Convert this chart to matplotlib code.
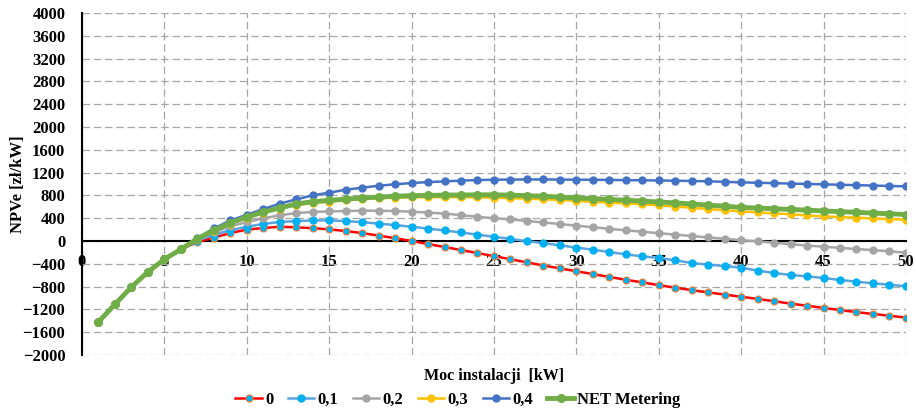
import numpy as np
import matplotlib.pyplot as plt

moc = np.arange(1, 51)

poczatek = [-1420, -1110, -807, -543, -320, -146]

npv_0 = poczatek + [-17, 60, 140, 200, 228, 250, 240, 225, 205, 175, 140, 95, 50, 0,
                    -53, -105, -158, -212, -265, -320, -375, -430, -480, -530,
                    -580, -630, -680, -725, -775, -818, -862, -902, -940, -978,
                    -1016, -1057, -1098, -1135, -1174, -1210, -1248, -1280, -1310, -1344]
npv_01 = poczatek + [5, 110, 190, 250, 300, 334, 350, 360, 362, 350, 330, 305, 280, 250,
                     218, 185, 150, 112, 75, 35, -2, -38, -76, -115,
                     -152, -193, -234, -269, -298, -339, -386, -414, -440, -467,
                     -520, -561, -596, -620, -649, -684, -713, -743, -766, -795]
npv_02 = poczatek + [20, 150, 260, 330, 400, 450, 491, 509, 520, 526, 532, 532, 526, 514,
                     500, 480, 455, 425, 400, 378, 352, 325, 298, 270,
                     242, 214, 188, 162, 138, 112, 88, 62, 38, 14,
                     -5, -30, -55, -80, -100, -120, -140, -160, -180, -205]
npv_03 = poczatek + [35, 180, 305, 405, 490, 570, 630, 670, 690, 715, 735, 750, 760, 765,
                     768, 770, 770, 768, 760, 752, 743, 733, 720, 705,
                     690, 675, 660, 645, 625, 605, 585, 562, 540, 520,
                     503, 485, 468, 450, 433, 420, 408, 396, 385, 375]
npv_04 = poczatek + [50, 220, 360, 460, 560, 655, 731, 801, 848, 900, 935, 970, 995, 1017,
                     1034, 1046, 1060, 1068, 1076, 1078, 1080, 1080, 1078, 1076,
                     1074, 1072, 1068, 1065, 1062, 1058, 1053, 1047, 1038, 1029,
                     1022, 1015, 1008, 1001, 994, 987, 980, 973, 966, 959]
npv_net = poczatek + [40, 188, 316, 421, 509, 579, 650, 690, 713, 735, 755, 772, 785, 795,
                      800, 805, 808, 810, 810, 805, 795, 785, 770, 755,
                      745, 730, 715, 700, 685, 668, 650, 630, 610, 590,
                      578, 566, 554, 541, 528, 515, 503, 490, 477, 465]

y_ticks = np.arange(-2000, 4001, 400)
x_ticks = np.arange(0, 51, 5)

plt.rcParams['font.family'] = ['Liberation Serif', 'DejaVu Serif']
plt.rcParams['font.weight'] = 'bold'

fig = plt.figure(figsize=(9.16, 4.13), dpi=100)
ax = fig.add_axes([0.0895, 0.1404, 0.8995, 0.8281])

ax.plot(moc, npv_0, color='#FF0000', lw=1.8, marker='o', ms=5,
        mfc='#00B0F0', mec='#ED7D31', mew=0.8, label='0')
ax.plot(moc, npv_01, color='#5BA3DE', lw=1.8, marker='o', ms=5,
        mfc='#00B0F0', mec='#00B0F0', label='0,1')
ax.plot(moc, npv_02, color='#A5A5A5', lw=1.8, marker='o', ms=5,
        mfc='#A5A5A5', mec='#A5A5A5', label='0,2')
ax.plot(moc, npv_03, color='#FFC000', lw=1.8, marker='o', ms=5,
        mfc='#FFC000', mec='#FFC000', label='0,3')
ax.plot(moc, npv_04, color='#4472C4', lw=1.8, marker='o', ms=5,
        mfc='#4472C4', mec='#4472C4', label='0,4')
ax.plot(moc, npv_net, color='#70AD47', lw=3.5, marker='o', ms=5.5,
        mfc='#70AD47', mec='#70AD47', label='NET Metering')

ax.set_xlim(0, 50)
ax.set_ylim(-2000, 4000)
ax.set_xticks(x_ticks)
ax.set_yticks(y_ticks)

ax.grid(True, color='#A6A6A6', ls=(0, (6, 3)), lw=0.9)
ax.set_axisbelow(True)

ax.spines['top'].set_visible(False)
ax.spines['right'].set_visible(False)
ax.spines['bottom'].set_position(('data', 0))
ax.spines['left'].set_linewidth(1.5)
ax.spines['bottom'].set_linewidth(1.5)
ax.spines['left'].set_zorder(1)
ax.spines['bottom'].set_zorder(1)

ax.tick_params(axis='x', length=0, pad=9, labelsize=12)
ax.tick_params(axis='y', length=0, pad=12, labelsize=12)
for lab in ax.get_xticklabels() + ax.get_yticklabels():
    lab.set_fontweight('bold')

ax.set_ylabel('NPVe [zł/kW]', fontsize=12, fontweight='bold')
ax.yaxis.set_label_coords(-0.068, 0.5)

ax.text(0.5, -0.06, 'Moc instalacji  [kW]', transform=ax.transAxes,
        ha='center', va='center', fontsize=11.5, fontweight='bold')

fig.legend(loc='center', bbox_to_anchor=(458 / 916, 1 - 400 / 413), ncol=6,
           frameon=False, handlelength=1.6, handletextpad=0.2,
           columnspacing=0.85, prop={'weight': 'bold', 'size': 12})

fig.savefig('out.png', dpi=100)
